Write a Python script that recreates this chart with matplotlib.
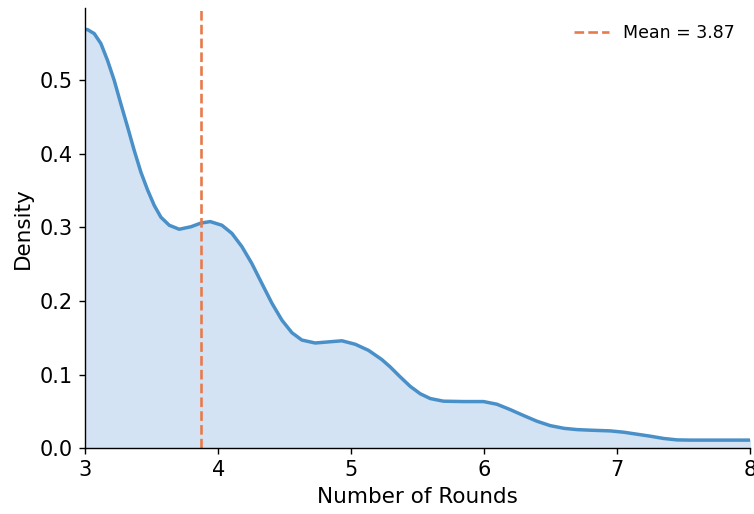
import matplotlib
matplotlib.use("Agg")
import matplotlib.pyplot as plt

# density curve
rounds = [3.0, 3.017, 3.068, 3.118, 3.168, 3.218, 3.268, 3.318, 3.368, 3.419, 3.469,
          3.519, 3.569, 3.632, 3.707, 3.795, 3.87, 3.94, 4.028, 4.103, 4.178, 4.253,
          4.328, 4.404, 4.479, 4.554, 4.629, 4.729, 4.83, 4.93, 5.03, 5.13, 5.23,
          5.293, 5.368, 5.444, 5.519, 5.594, 5.694, 5.844, 5.995, 6.095, 6.195, 6.296,
          6.396, 6.496, 6.6, 6.697, 6.797, 6.95, 7.05, 7.15, 7.25, 7.35, 7.45, 7.55,
          7.75, 8.0]
density = [0.569, 0.569, 0.5635, 0.550, 0.527, 0.500, 0.468, 0.437, 0.405, 0.375, 0.351,
           0.330, 0.314, 0.303, 0.2976, 0.301, 0.306, 0.308, 0.303, 0.292, 0.274, 0.251,
           0.224, 0.197, 0.174, 0.157, 0.147, 0.143, 0.1445, 0.146, 0.1413, 0.133, 0.1205,
           0.1105, 0.097, 0.084, 0.074, 0.0675, 0.0639, 0.0634, 0.0634, 0.0598, 0.0525, 0.0444,
           0.0367, 0.0307, 0.027, 0.0253, 0.0245, 0.0235, 0.0217, 0.019, 0.0163, 0.0132, 0.0113, 0.011,
           0.011, 0.011]
mean_rounds = 3.87

fig = plt.figure(figsize=(6.032, 4.112), dpi=125)
ax = fig.add_axes([0.113, 0.128, 0.882, 0.856])

ax.fill_between(rounds, density, color="#d4e3f3")
ax.plot(rounds, density, color="#4a90c8", lw=2, solid_joinstyle="round")
ax.axvline(mean_rounds, color="#e8794a", ls="--", lw=1.5, label=f"Mean = {mean_rounds:.2f}")

ax.set_xlim(3, 8)
ax.set_ylim(0, 0.598)
ax.set_xlabel("Number of Rounds", fontsize=12.4)
ax.set_ylabel("Density", fontsize=12.4)
ax.tick_params(labelsize=12)
ax.spines["top"].set_visible(False)
ax.spines["right"].set_visible(False)
ax.legend(frameon=False, fontsize=10, loc="upper right")

fig.savefig("out.png", dpi=125)
